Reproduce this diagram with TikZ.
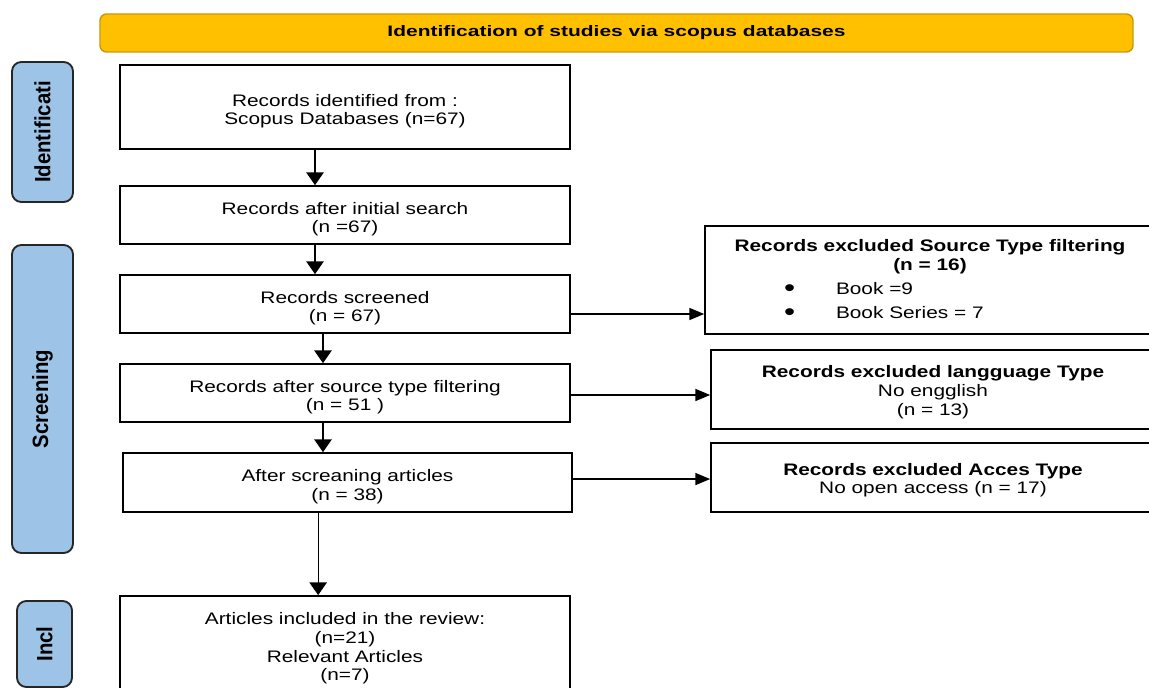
\documentclass[tikz,border=0pt]{standalone}
\usepackage{fontspec}
\setmainfont{Liberation Sans}
\newfontfamily\bodyfont[FakeStretch=1.25]{Liberation Sans}
\newfontfamily\headfont[FakeStretch=1.38]{Liberation Sans}
\newfontfamily\sidefont[FakeStretch=0.92]{Liberation Sans}
\usetikzlibrary{positioning,arrows.meta}
\definecolor{headfill}{HTML}{FFC000}
\definecolor{headline}{HTML}{C8990A}
\definecolor{sidefill}{HTML}{9DC3E6}
\newcommand{\bigdot}{\raisebox{-1.2pt}{\fontsize{19}{14}\selectfont\textbullet}}
\newcommand{\lowr}{\rule{0pt}{15.1pt}}
\newcommand{\low}{\rule{0pt}{12.9pt}}

\begin{document}
\begin{tikzpicture}[x=0.75pt,y=-0.75pt,
    box/.style = {rectangle,draw=black,line width=1.3pt,align=center,
        font=\bodyfont\fontsize{12.5}{14}\selectfont,minimum width=337.5pt,inner sep=0pt},
    exbox/.style = {box},
    sidebar/.style = {rectangle,rounded corners=7pt,draw=black!85,fill=sidefill,
        line width=1.4pt,rotate=90,font=\sidefont\bfseries\fontsize{16.6}{18}\selectfont,inner sep=0pt},
    down/.style = {-{Triangle[length=9.5pt,width=13pt]},line width=0.9pt},
    across/.style = {-{Triangle[length=11pt,width=9pt]},line width=0.9pt}]
      \useasboundingbox (0,0) rectangle (1149,688);
      % header
      \node[rectangle,rounded corners=5pt,draw=headline,fill=headfill,line width=1.1pt,
        minimum width=774.75pt,minimum height=28.5pt,
        font=\headfont\bfseries\fontsize{11.4}{13}\selectfont] (head) at (616.5,33)
        {Identification of studies via scopus databases};
      % phases
      \node[sidebar,minimum width=105pt,minimum height=45.75pt] (idbar) at (42.5,132) {Identificati};
      \node[sidebar,minimum width=231pt,minimum height=45.75pt] (scbar) at (42.5,399) {Screening};
      \node[sidebar,minimum width=64.5pt,minimum height=41.25pt] (inbar) at (44.5,644) {Incl};
      % main column
      \node[box,minimum height=63pt] (rec) at (345,107) {\lowr Records identified from :\\Scopus Databases (n=67)};
      \node[box,minimum height=43.5pt] (init) at (345,215) {\lowr Records after initial search\\(n =67)};
      \node[box,minimum height=43.5pt] (scr) at (345,304) {\lowr Records screened\\(n = 67)};
      \node[box,minimum height=43.5pt] (src) at (345,393) {\lowr Records after source type filtering\\(n = 51 )};
      \node[box,minimum width=336.75pt,minimum height=44.25pt] (art) at (347.5,482.5) {\lowr After screaning articles\\(n = 38)};
      \node[box,minimum height=75pt] (incl) at (345,646) {\low Articles included in the review:\\(n=21)\\Relevant Articles\\(n=7)};
      % excluded
      \node[exbox,minimum width=337.5pt,minimum height=81pt] (exsrc) at (930,280)
        {\textbf{Records excluded Source Type filtering}\\\textbf{(n = 16)}\\[4pt]
         \makebox[219pt][l]{\makebox[39pt][l]{\bigdot}Book =9}\\[4pt]
         \makebox[219pt][l]{\makebox[39pt][l]{\bigdot}Book Series = 7}};
      \node[exbox,minimum width=333pt,minimum height=59.25pt] (exlang) at (933,389.5)
        {\low\textbf{Records excluded langguage Type}\\No engglish\\(n = 13)};
      \node[exbox,minimum width=333pt,minimum height=51.75pt] (exacc) at (933,477.5)
        {\low\textbf{Records excluded Acces Type}\\No open access (n = 17)};
      % arrows
      \draw[down] ([xshift=-22.5pt]rec.south) -- ([xshift=-22.5pt]rec.south |- init.north);
      \draw[down] ([xshift=-22.5pt]init.south) -- ([xshift=-22.5pt]init.south |- scr.north);
      \draw[down] ([xshift=-16.5pt]scr.south) -- ([xshift=-16.5pt]scr.south |- src.north);
      \draw[down] ([xshift=-16.5pt]src.south) -- ([xshift=-16.5pt]src.south |- art.north);
      \draw[down] ([xshift=-22pt]art.south) -- ([xshift=-22pt]art.south |- incl.north);
      \draw[across] ([yshift=-7.5pt]scr.east) -- ([yshift=-7.5pt]scr.east -| exsrc.west);
      \draw[across] ([yshift=-1.5pt]src.east) -- ([yshift=-1.5pt]src.east -| exlang.west);
      \draw[across] ([yshift=2.6pt]art.east) -- ([yshift=2.6pt]art.east -| exacc.west);
    \end{tikzpicture}
\end{document}
